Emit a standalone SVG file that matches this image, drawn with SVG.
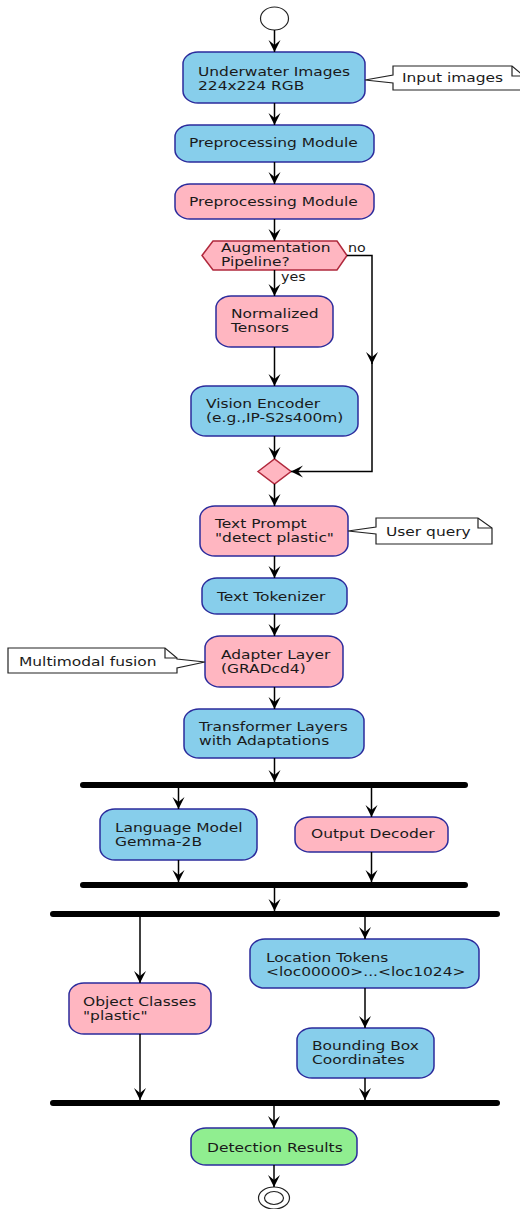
<svg xmlns="http://www.w3.org/2000/svg" width="520" height="1209" viewBox="0 0 520 1209">
<defs>
<style>
.blue{fill:#87CEEB;stroke:#2B2B9C;stroke-width:1.5}
.pink{fill:#FFB6C1;stroke:#2B2B9C;stroke-width:1.5}
.green{fill:#90EE90;stroke:#2B2B9C;stroke-width:1.5}
.dec{fill:#FFB6C1;stroke:#B0283C;stroke-width:1.5}
.note{fill:#FFFFFF;stroke:#222222;stroke-width:1.2}
.fold{fill:none;stroke:#222222;stroke-width:1.2}
.bar{fill:#000000}
text{font-family:"DejaVu Sans","Liberation Sans",sans-serif;font-size:13px;fill:#1a1a1a}
.lbl{font-size:12px}
.edge{fill:none;stroke:#000000;stroke-width:1.5}
</style>
<marker id="ah" markerUnits="userSpaceOnUse" markerWidth="16" markerHeight="16" viewBox="-13 -8 16 16" refX="0" refY="0" orient="auto">
<path d="M0,0 L-12,-6 L-7,0 L-12,6 Z" fill="#000000"/>
</marker>
</defs>

<g id="start"><ellipse cx="274.5" cy="18.5" rx="14" ry="11.5" fill="#FFFFFF" stroke="#222222" stroke-width="1.2"/></g>

<g id="n1"><rect class="blue" x="183" y="52" width="182" height="51" rx="15" ry="12"/>
<text transform="translate(198,76) scale(1.19,1)"><tspan x="0" y="0">Underwater Images</tspan><tspan x="0" y="14">224x224 RGB</tspan></text></g>

<g id="note1"><path class="note" d="M393,66 H512 L524,76 V90 H393 V83 L365,80 L393,75 Z"/>
<path class="fold" d="M512,66 V76 H524"/>
<text transform="translate(402,82) scale(1.19,1)">Input images</text></g>

<g id="n2"><rect class="blue" x="175" y="125" width="199" height="37" rx="15" ry="12"/>
<text transform="translate(189,147) scale(1.19,1)">Preprocessing Module</text></g>

<g id="n3"><rect class="pink" x="175" y="184" width="199" height="35" rx="15" ry="12"/>
<text transform="translate(189,206) scale(1.19,1)">Preprocessing Module</text></g>

<g id="d1"><polygon class="dec" points="202,255.5 213,241 337,241 347,255.5 337,270 213,270"/>
<text transform="translate(221,252) scale(1.19,1)"><tspan x="0" y="0">Augmentation</tspan><tspan x="0" y="14">Pipeline?</tspan></text></g>

<g id="n4"><rect class="pink" x="216" y="296" width="117" height="51" rx="15" ry="12"/>
<text transform="translate(231,318) scale(1.19,1)"><tspan x="0" y="0">Normalized</tspan><tspan x="0" y="14">Tensors</tspan></text></g>

<g id="n5"><rect class="blue" x="191" y="386" width="167" height="50" rx="15" ry="12"/>
<text transform="translate(206,408) scale(1.19,1)"><tspan x="0" y="0">Vision Encoder</tspan><tspan x="0" y="14">(e.g.,IP-S2s400m)</tspan></text></g>

<g id="merge"><polygon class="dec" points="258,471.5 274.5,459 291,471.5 274.5,484"/></g>

<g id="n6"><rect class="pink" x="200" y="506" width="148" height="50" rx="15" ry="12"/>
<text transform="translate(215,528) scale(1.19,1)"><tspan x="0" y="0">Text Prompt</tspan><tspan x="0" y="14">"detect plastic"</tspan></text></g>

<g id="note2"><path class="note" d="M376,518 H478 L492,528 V544 H376 V534 L348,531 L376,527 Z"/>
<path class="fold" d="M478,518 V528 H492"/>
<text transform="translate(386,536) scale(1.19,1)">User query</text></g>

<g id="n7"><rect class="blue" x="202" y="578" width="145" height="36" rx="15" ry="12"/>
<text transform="translate(217,601) scale(1.19,1)">Text Tokenizer</text></g>

<g id="n8"><rect class="pink" x="205" y="636" width="138" height="51" rx="15" ry="12"/>
<text transform="translate(221,659) scale(1.19,1)"><tspan x="0" y="0">Adapter Layer</tspan><tspan x="0" y="14">(GRADcd4)</tspan></text></g>

<g id="note3"><path class="note" d="M8,648 H165 L177,658 V659 L205,662 L177,668 V673 H8 Z"/>
<path class="fold" d="M165,648 V658 H177"/>
<text transform="translate(19,666) scale(1.19,1)">Multimodal fusion</text></g>

<g id="n9"><rect class="blue" x="184" y="709" width="180" height="49" rx="15" ry="12"/>
<text transform="translate(199,731) scale(1.19,1)"><tspan x="0" y="0">Transformer Layers</tspan><tspan x="0" y="14">with Adaptations</tspan></text></g>

<g id="fork1"><rect class="bar" x="80" y="782" width="388" height="6" rx="3"/></g>

<g id="n10"><rect class="blue" x="100" y="809" width="157" height="51" rx="15" ry="12"/>
<text transform="translate(115,832) scale(1.19,1)"><tspan x="0" y="0">Language Model</tspan><tspan x="0" y="14">Gemma-2B</tspan></text></g>

<g id="n11"><rect class="pink" x="295" y="817" width="153" height="35" rx="15" ry="12"/>
<text transform="translate(311,838) scale(1.19,1)">Output Decoder</text></g>

<g id="join1"><rect class="bar" x="80" y="882" width="388" height="6" rx="3"/></g>

<g id="fork2"><rect class="bar" x="50" y="911" width="450" height="6" rx="3"/></g>

<g id="n12"><rect class="blue" x="250" y="939" width="229" height="49" rx="15" ry="12"/>
<text transform="translate(266,962) scale(1.19,1)"><tspan x="0" y="0">Location Tokens</tspan><tspan x="0" y="14">&lt;loc00000&gt;...&lt;loc1024&gt;</tspan></text></g>

<g id="n13"><rect class="pink" x="69" y="983" width="142" height="51" rx="15" ry="12"/>
<text transform="translate(83,1006) scale(1.19,1)"><tspan x="0" y="0">Object Classes</tspan><tspan x="0" y="14">"plastic"</tspan></text></g>

<g id="n14"><rect class="blue" x="297" y="1028" width="137" height="50" rx="15" ry="12"/>
<text transform="translate(312,1050) scale(1.19,1)"><tspan x="0" y="0">Bounding Box</tspan><tspan x="0" y="14">Coordinates</tspan></text></g>

<g id="join2"><rect class="bar" x="50" y="1100" width="450" height="6" rx="3"/></g>

<g id="n15"><rect class="green" x="191" y="1128" width="166" height="37" rx="15" ry="12"/>
<text transform="translate(207,1152) scale(1.19,1)">Detection Results</text></g>

<g id="end"><ellipse cx="274" cy="1198" rx="15.5" ry="11" fill="#FFFFFF" stroke="#222222" stroke-width="1.2"/>
<ellipse cx="274" cy="1198" rx="9.5" ry="6.5" fill="none" stroke="#222222" stroke-width="1.2"/></g>

<g id="connectors">
<path class="edge" d="M274.5,30 V52" marker-end="url(#ah)"/>
<path class="edge" d="M274.5,103 V125" marker-end="url(#ah)"/>
<path class="edge" d="M274.5,162 V184" marker-end="url(#ah)"/>
<path class="edge" d="M274.5,219 V241" marker-end="url(#ah)"/>
<path class="edge" d="M274.5,270 V296" marker-end="url(#ah)"/>
<text class="lbl" transform="translate(281,281) scale(1.19,1)">yes</text>
<path class="edge" d="M347,255.5 H372 V364" marker-end="url(#ah)"/>
<path class="edge" d="M372,362 V471.5 H291" marker-end="url(#ah)"/>
<text class="lbl" transform="translate(348,252) scale(1.19,1)">no</text>
<path class="edge" d="M274.5,347 V386" marker-end="url(#ah)"/>
<path class="edge" d="M274.5,436 V459" marker-end="url(#ah)"/>
<path class="edge" d="M274.5,484 V506" marker-end="url(#ah)"/>
<path class="edge" d="M274.5,556 V578" marker-end="url(#ah)"/>
<path class="edge" d="M274.5,614 V636" marker-end="url(#ah)"/>
<path class="edge" d="M274.5,687 V709" marker-end="url(#ah)"/>
<path class="edge" d="M274.5,758 V782" marker-end="url(#ah)"/>
<path class="edge" d="M178.5,788 V809" marker-end="url(#ah)"/>
<path class="edge" d="M371.5,788 V817" marker-end="url(#ah)"/>
<path class="edge" d="M178.5,860 V882" marker-end="url(#ah)"/>
<path class="edge" d="M371.5,852 V882" marker-end="url(#ah)"/>
<path class="edge" d="M274.5,888 V911" marker-end="url(#ah)"/>
<path class="edge" d="M140,917 V983" marker-end="url(#ah)"/>
<path class="edge" d="M365,917 V939" marker-end="url(#ah)"/>
<path class="edge" d="M365,988 V1028" marker-end="url(#ah)"/>
<path class="edge" d="M140,1034 V1100" marker-end="url(#ah)"/>
<path class="edge" d="M365,1078 V1100" marker-end="url(#ah)"/>
<path class="edge" d="M274,1106 V1128" marker-end="url(#ah)"/>
<path class="edge" d="M274,1165 V1187" marker-end="url(#ah)"/>
</g>
</svg>
